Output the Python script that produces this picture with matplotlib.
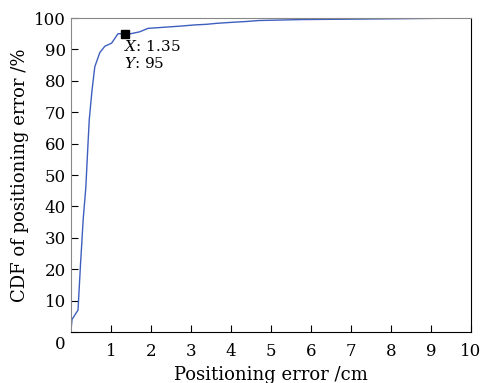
import numpy as np
import matplotlib.pyplot as plt
from matplotlib import transforms

plt.rcParams['font.family'] = 'DejaVu Serif'
plt.rcParams['mathtext.fontset'] = 'dejavuserif'

# CDF curve
err = [0, 0.03, 0.18, 0.24, 0.31, 0.375, 0.43, 0.46, 0.53, 0.6, 0.725, 0.85, 1.02,
       1.1, 1.18, 1.35, 1.5, 1.72, 1.93, 2.72, 3.1, 3.4, 3.64, 4.0, 4.4, 4.7,
       5.77, 7.6, 9.2, 9.77, 10]
cdf = [0, 4, 7, 21, 36, 46, 60, 67.5, 77, 84.5, 89, 91, 92,
       93.5, 95, 95, 95, 95.6, 96.7, 97.4, 97.8, 98, 98.3, 98.6, 98.9, 99.2,
       99.5, 99.7, 99.9, 100, 100]
mark_x, mark_y = 1.35, 95

fig = plt.figure(figsize=(4.85, 3.83), dpi=100)
ax = fig.add_axes([0.146, 0.133, 0.825, 0.82])
ax.plot(err, cdf, color='#3f5fbf', linewidth=1.0)
ax.plot(mark_x, mark_y, 's', color='black', markersize=6)
ax.text(mark_x - 0.02, mark_y - 1.8, '$X$: 1.35\n$Y$: 95', fontsize=11,
        va='top', ha='left', linespacing=1.1)

ax.set_xlim(0, 10)
ax.set_ylim(0, 100)
ax.set_xticks(range(1, 11))
ax.set_yticks(range(0, 101, 10))
ax.tick_params(direction='in', length=5, labelsize=12, top=False, right=False)
ax.tick_params(axis='x', pad=8)
ax.set_xlabel('Positioning error /cm', fontsize=13, labelpad=4)
ax.set_ylabel('CDF of positioning error /%', fontsize=13, labelpad=4)

ax.spines['left'].set_color('#888888')
ax.spines['top'].set_color('#888888')
ax.spines['bottom'].set_color('black')
ax.spines['right'].set_color('black')

# the shared "0" sits a bit below the corner
lab0 = ax.get_yticklabels()[0]
lab0.set_transform(lab0.get_transform() + transforms.ScaledTranslation(0, -10 / 100, fig.dpi_scale_trans))

fig.savefig('out.png', dpi=100)
